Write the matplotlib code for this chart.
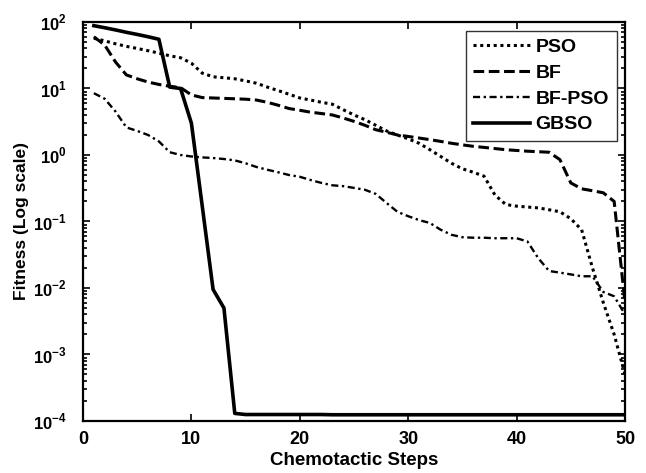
import numpy as np
import matplotlib
matplotlib.use("Agg")
import matplotlib.pyplot as plt
from matplotlib.ticker import FixedLocator, NullFormatter, FuncFormatter

plt.rcParams['font.family'] = ['Liberation Sans', 'DejaVu Sans']
plt.rcParams['font.weight'] = 'bold'
plt.rcParams['mathtext.fontset'] = 'custom'
plt.rcParams['mathtext.rm'] = 'Liberation Sans:bold'
plt.rcParams['mathtext.bf'] = 'Liberation Sans:bold'

steps = list(range(1, 51))

pso = [57, 52, 47, 43, 40, 37, 34, 31, 29, 24,
       17, 15, 14.5, 14, 13, 12, 10.5, 9.3, 8.2, 7.2,
       6.7, 6.2, 5.8, 4.8, 4.0, 3.4, 2.8, 2.3, 2.0, 1.75,
       1.5, 1.2, 0.95, 0.75, 0.62, 0.55, 0.48, 0.25, 0.18, 0.17,
       0.165, 0.16, 0.15, 0.14, 0.11, 0.075, 0.02, 0.006, 0.002, 5e-4]

bf = [60, 45, 25, 16, 14, 12.5, 11.5, 10.8, 10.3, 8.0,
      7.3, 7.2, 7.1, 7.0, 6.9, 6.7, 6.2, 5.6, 5.0, 4.7,
      4.4, 4.2, 4.0, 3.6, 3.2, 2.8, 2.4, 2.2, 2.0, 1.9,
      1.8, 1.7, 1.6, 1.5, 1.42, 1.35, 1.3, 1.25, 1.2, 1.17,
      1.14, 1.12, 1.1, 0.85, 0.38, 0.31, 0.29, 0.27, 0.2, 0.006]

bf_pso = [8.5, 7.0, 4.5, 2.6, 2.3, 2.0, 1.6, 1.1, 1.0, 0.95,
          0.92, 0.9, 0.87, 0.83, 0.75, 0.66, 0.6, 0.55, 0.5, 0.47,
          0.42, 0.38, 0.35, 0.34, 0.32, 0.3, 0.26, 0.19, 0.14, 0.12,
          0.105, 0.095, 0.075, 0.063, 0.058, 0.057, 0.057, 0.056, 0.056, 0.056,
          0.05, 0.028, 0.018, 0.017, 0.016, 0.015, 0.015, 0.0087, 0.0075, 0.004]

gbso = [88, 82, 76, 70, 65, 60, 55, 10.5, 10, 3.0,
        0.17, 0.0095, 0.005, 1.3e-4, 1.25e-4, 1.25e-4, 1.25e-4, 1.25e-4, 1.25e-4, 1.25e-4,
        1.25e-4, 1.25e-4, 1.24e-4, 1.24e-4, 1.24e-4, 1.24e-4, 1.24e-4, 1.24e-4, 1.24e-4, 1.24e-4,
        1.24e-4, 1.24e-4, 1.24e-4, 1.24e-4, 1.24e-4, 1.24e-4, 1.24e-4, 1.24e-4, 1.24e-4, 1.24e-4,
        1.24e-4, 1.24e-4, 1.24e-4, 1.24e-4, 1.24e-4, 1.24e-4, 1.24e-4, 1.24e-4, 1.24e-4, 1.24e-4]

decades = [1e-4, 1e-3, 1e-2, 1e-1, 1e0, 1e1, 1e2]
x_ticks = [0, 10, 20, 30, 40, 50]

fig = plt.figure(figsize=(6.46, 4.73), dpi=100)
ax = fig.add_axes([0.1285, 0.110, 0.839, 0.8435])

ax.plot(steps, pso, color='black', linestyle=(0, (1, 1.2)), lw=2.2, label='PSO')
ax.plot(steps, bf, color='black', linestyle=(0, (3.5, 1.5)), lw=2.2, label='BF')
ax.plot(steps, bf_pso, color='black', linestyle=(0, (3, 1.5, 1, 1.5)), lw=1.7, label='BF-PSO')
ax.plot(steps, gbso, color='black', linestyle='-', lw=2.6, label='GBSO')

ax.set_yscale('log')
ax.set_xlim(0, 50)
ax.set_ylim(1e-4, 1e2)
ax.set_xticks(x_ticks)
ax.yaxis.set_major_locator(FixedLocator(decades))
ax.yaxis.set_major_formatter(FuncFormatter(lambda v, p: r'$10^{%d}$' % round(np.log10(v))))
minors = [d * k for d in decades[:-1] for k in range(2, 10)]
ax.yaxis.set_minor_locator(FixedLocator(minors))
ax.yaxis.set_minor_formatter(NullFormatter())
ax.tick_params(which='both', direction='in', top=True, right=True, width=1.2)
ax.tick_params(which='major', length=5)
ax.tick_params(axis='x', pad=7, labelsize=13)
ax.tick_params(axis='y', pad=12, labelsize=12)
ax.tick_params(which='minor', length=3)
for sp in ax.spines.values():
    sp.set_linewidth(1.6)

ax.set_xlabel('Chemotactic Steps', fontsize=13.5, fontweight='bold')
ax.set_ylabel('Fitness (Log scale)', fontsize=12.5, fontweight='bold')
ax.xaxis.set_label_coords(0.5, -0.078)
ax.yaxis.set_label_coords(-0.100, 0.5)

leg = ax.legend(loc='upper right', bbox_to_anchor=(0.985, 0.978), fontsize=14,
                frameon=True, fancybox=False, edgecolor='black', handlelength=2.9,
                handletextpad=0.3, borderpad=0.4, labelspacing=0.42, borderaxespad=0)
leg.get_frame().set_linewidth(1.0)

fig.savefig('out.png', dpi=100)
